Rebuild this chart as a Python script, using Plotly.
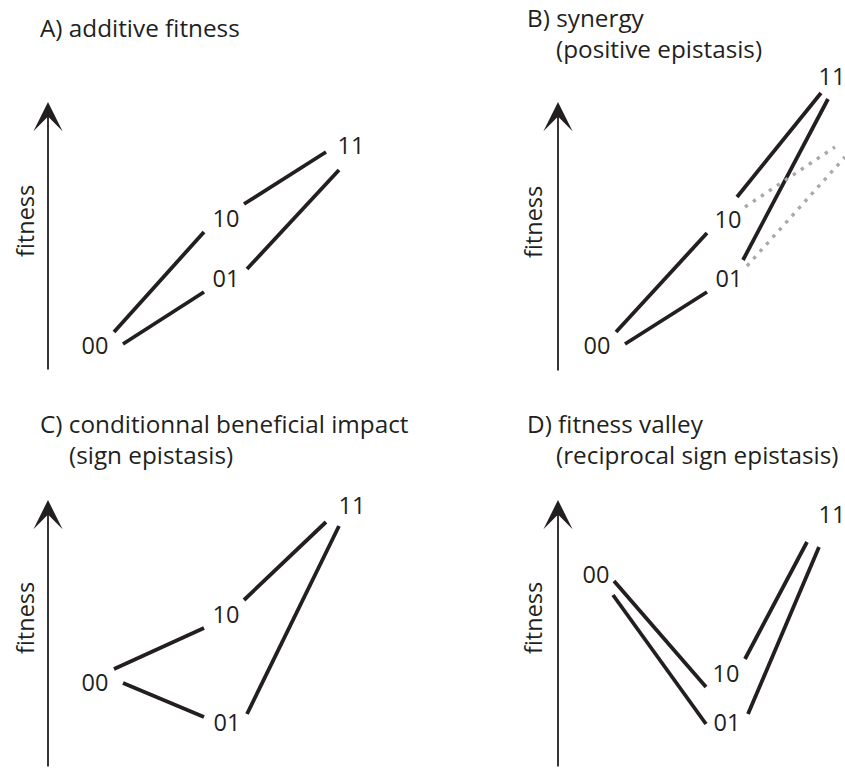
import plotly.graph_objects as go

# Two-locus fitness landscapes: genotypes 00, 10, 01, 11 placed by fitness,
# joined by single-mutation edges. Each panel has its own local frame:
# x runs across the panel, y is fitness (up).

PANELS = ["A", "B", "C", "D"]

titles = {
    "A": ["A) additive fitness"],
    "B": ["B) synergy", "(positive epistasis)"],
    "C": ["C) conditionnal beneficial impact", "(sign epistasis)"],
    "D": ["D) fitness valley", "(reciprocal sign epistasis)"],
}

genotypes = ["00", "10", "01", "11"]

# genotype label anchors per panel (same order as `genotypes`)
geno_x = {
    "A": [95, 226, 226, 351],
    "B": [174.5, 305.5, 306.5, 409.5],
    "C": [95, 226, 227, 352],
    "D": [173.5, 303.5, 304.5, 409.5],
}
geno_fit = {
    "A": [37, 164, 104, 237],
    "B": [37, 163, 104, 306],
    "C": [85, 153, 45, 262],
    "D": [193, 94, 45, 253],
}

# mutational edges: 00-10, 00-01, 10-11, 01-11 (start / end points)
edge_x0 = {
    "A": [114, 123, 244, 247],
    "B": [193.5, 202.5, 314.5, 320.5],
    "C": [114, 123, 244, 247],
    "D": [191.5, 190.5, 322.5, 325.5],
}
edge_f0 = {
    "A": [53, 41, 181, 116],
    "B": [53, 41, 188, 125],
    "C": [101, 87, 170, 56],
    "D": [189, 175, 111, 56],
}
edge_x1 = {
    "A": [204, 204, 326, 339],
    "B": [284.5, 284.5, 398.5, 405.5],
    "C": [204, 204, 326, 339],
    "D": [283.5, 283.5, 384.5, 396.5],
}
edge_f1 = {
    "A": [153, 93, 233, 215],
    "B": [152, 93, 292, 286],
    "C": [142, 53, 248, 244],
    "D": [83, 46, 228, 223],
}

# additive expectation for the double mutant in panel B (dotted)
additive_x0 = [322.5, 324.5]
additive_f0 = [178, 119]
additive_x1 = [412.5, 422.5]
additive_f1 = [238, 228]

# fitness axis (base, tip) and its label, per panel
axis_x = {"A": 48, "B": 135.5, "C": 48, "D": 135.5}
axis_f = {"A": (14, 283), "B": (13, 283), "C": (2, 270), "D": (2, 270)}
axis_label_pos = {"A": (25, 164), "B": (110.5, 163), "C": (25, 152), "D": (110.5, 152)}

# title anchors: (left x of line 1, fitness of line 1, left x of line 2, fitness of line 2)
title_pos = {
    "A": (38, 358, None, None),
    "B": (102.5, 368, 131.5, 336.5),
    "C": (38, 347, 67, 315.5),
    "D": (102.5, 347, 131.5, 315.5),
}

INK = "#231f20"
GREY = "#a7a9ac"
FONT = dict(family="Open Sans", size=23.5, color=INK)
TITLE_FONT = dict(family="Open Sans", size=24.3, color=INK)
PANEL_W, PANEL_H = 422.5, 385

domains = {
    "A": ([0, 0.5], [0.5, 1]),
    "B": ([0.5, 1], [0.5, 1]),
    "C": ([0, 0.5], [0, 0.5]),
    "D": ([0.5, 1], [0, 0.5]),
}

fig = go.Figure()
annotations = []
layout_axes = {}

for i, p in enumerate(PANELS):
    n = "" if i == 0 else str(i + 1)
    xa, ya = "x" + n, "y" + n
    xdom, ydom = domains[p]
    layout_axes["xaxis" + n] = dict(domain=xdom, range=[0, PANEL_W], visible=False,
                                    anchor=ya, fixedrange=True)
    layout_axes["yaxis" + n] = dict(domain=ydom, range=[0, PANEL_H], visible=False,
                                    anchor=xa, fixedrange=True)

    # solid mutational edges
    ex, ef = [], []
    for a, b, c, d in zip(edge_x0[p], edge_f0[p], edge_x1[p], edge_f1[p]):
        ex += [a, c, None]
        ef += [b, d, None]
    fig.add_trace(go.Scatter(x=ex, y=ef, mode="lines", xaxis=xa, yaxis=ya,
                             line=dict(color=INK, width=3.8), hoverinfo="skip"))

    if p == "B":
        dx, df = [], []
        for a, b, c, d in zip(additive_x0, additive_f0, additive_x1, additive_f1):
            dx += [a, c, None]
            df += [b, d, None]
        fig.add_trace(go.Scatter(x=dx, y=df, mode="lines", xaxis=xa, yaxis=ya,
                                 line=dict(color=GREY, width=3.4, dash="3.4px,6.2px"),
                                 hoverinfo="skip"))

    # genotype labels
    fig.add_trace(go.Scatter(x=geno_x[p], y=geno_fit[p], mode="text", text=genotypes,
                             textposition="middle center", textfont=FONT,
                             xaxis=xa, yaxis=ya, hoverinfo="skip", cliponaxis=False))

    # fitness axis arrow
    f0, f1 = axis_f[p]
    annotations.append(dict(x=axis_x[p], y=f1, ax=axis_x[p], ay=f0,
                            xref=xa, yref=ya, axref=xa, ayref=ya,
                            text="", showarrow=True, arrowhead=3, arrowsize=2.7,
                            arrowwidth=1.8, arrowcolor=INK, standoff=0))
    lx, lf = axis_label_pos[p]
    annotations.append(dict(x=lx, y=lf, xref=xa, yref=ya, text="fitness",
                            textangle=-90, showarrow=False, font=FONT,
                            xanchor="center", yanchor="middle"))

    # panel titles
    t1x, t1f, t2x, t2f = title_pos[p]
    annotations.append(dict(x=t1x, y=t1f, xref=xa, yref=ya, text=titles[p][0],
                            showarrow=False, font=TITLE_FONT, xanchor="left",
                            yanchor="middle"))
    if len(titles[p]) > 1:
        annotations.append(dict(x=t2x, y=t2f, xref=xa, yref=ya, text=titles[p][1],
                                showarrow=False, font=TITLE_FONT, xanchor="left",
                                yanchor="middle"))

fig.update_layout(
    width=845, height=770,
    margin=dict(l=0, r=0, t=0, b=0),
    paper_bgcolor="white", plot_bgcolor="white",
    showlegend=False,
    annotations=annotations,
    **layout_axes,
)

fig.write_html("out.html")
